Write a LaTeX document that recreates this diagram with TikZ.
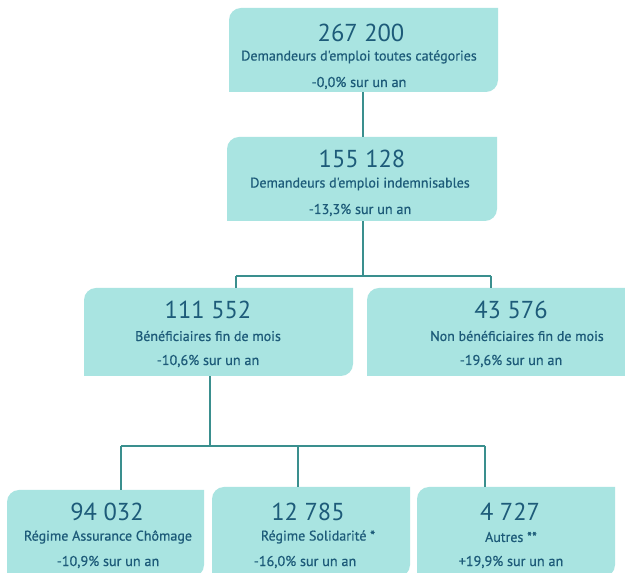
\documentclass[tikz,border=0pt]{standalone}
\usepackage{fontspec}
\setmainfont{PT Sans}
\newfontfamily\medfont[FakeBold=0.6]{PT Sans}
\usetikzlibrary{fit,calc}
\definecolor{boxfill}{HTML}{A9E4E1}
\definecolor{txt}{HTML}{1D5B79}
\definecolor{line}{HTML}{3A8F8E}
\newcommand\tealbox[5]{%
  \fill[boxfill] (#2,#5) -- (#2,#3-12) arc[start angle=180,end angle=90,radius=12] -- (#4,#3) -- (#4,#5+12) arc[start angle=0,end angle=-90,radius=12] -- cycle;
  \node[fit={(#2,#3) (#4,#5)}, inner sep=0pt] (#1) {};
}
\tikzset{
  num/.style={text=txt, font=\fontsize{24.5}{26}\selectfont, inner sep=0pt},
  sub/.style={text=txt, font=\medfont\fontsize{14}{16}\selectfont, inner sep=0pt},
  pct/.style={text=txt, font=\medfont\fontsize{14.2}{16}\selectfont, inner sep=0pt},
  conn/.style={draw=line, line width=1.3pt}
}
\begin{document}
\begin{tikzpicture}[x=1pt,y=1pt]
\useasboundingbox (0,0) rectangle (625,573);
\clip (0,0) rectangle (625,573);
\fill[white] (0,0) rectangle (625,573);
% boxes
\tealbox{b1}{229}{565}{498}{481}
\tealbox{b2}{227}{436}{497}{352}
\tealbox{b3}{84}{285}{353}{197}
\tealbox{b4}{367}{285}{650}{197}
\tealbox{b5}{7}{83}{204}{-4}
\tealbox{b6}{212}{86}{410}{-4}
\tealbox{b7}{417}{86}{615}{-4}
% junctions
\coordinate (j1) at (363,297);
\coordinate (j1l) at (236,297);
\coordinate (j1r) at (491,297);
\coordinate (j2) at (210,127);
\coordinate (j2l) at (121,127);
\coordinate (j2m) at (298,127);
\coordinate (j2r) at (485,127);
% connectors
\draw[conn] (b1.south -| j1) -- (b2.north -| j1);
\draw[conn] (b2.south -| j1) -- (j1);
\draw[conn] (j1l) -- (j1r);
\draw[conn] (j1l) -- (j1l |- b3.north);
\draw[conn] (j1r) -- (j1r |- b4.north);
\draw[conn] (b3.south -| j2) -- (j2);
\draw[conn] (j2l) -- (j2r);
\draw[conn] (j2l) -- (j2l |- b5.north);
\draw[conn] (j2m) -- (j2m |- b6.north);
\draw[conn] (j2r) -- (j2r |- b7.north);
% texts
\node[num] (b1n) at (361,540) {267 200};
\node[sub] (b1s) at (359,516) {Demandeurs d'emploi toutes catégories};
\node[pct] (b1p) at (359,490) {-0,0\% sur un an};
\node[num] (b2n) at (362,414) {155 128};
\node[sub] (b2s) at (360,389) {Demandeurs d'emploi indemnisables};
\node[pct] (b2p) at (360,363) {-13,3\% sur un an};
\node[num] (b3n) at (208,263) {111 552};
\node[sub] (b3s) at (208,237) {Bénéficiaires fin de mois};
\node[pct] (b3p) at (208,212) {-10,6\% sur un an};
\node[num] (b4n) at (511,263) {43 576};
\node[sub] (b4s) at (517,237) {Non bénéficiaires fin de mois};
\node[pct] (b4p) at (511,212) {-19,6\% sur un an};
\node[num] (b5n) at (107,61) {94 032};
\node[sub] (b5s) at (108,36) {Régime Assurance Chômage};
\node[pct] (b5p) at (108,11) {-10,9\% sur un an};
\node[num] (b6n) at (308,61) {12 785};
\node[sub] (b6s) at (318,36) {Régime Solidarité *};
\node[pct] (b6p) at (305,11) {-16,0\% sur un an};
\node[num] (b7n) at (510,61) {4 727};
\node[sub] (b7s) at (511,36) {Autres **};
\node[pct] (b7p) at (511,11) {+19,9\% sur un an};
\end{tikzpicture}
\end{document}
